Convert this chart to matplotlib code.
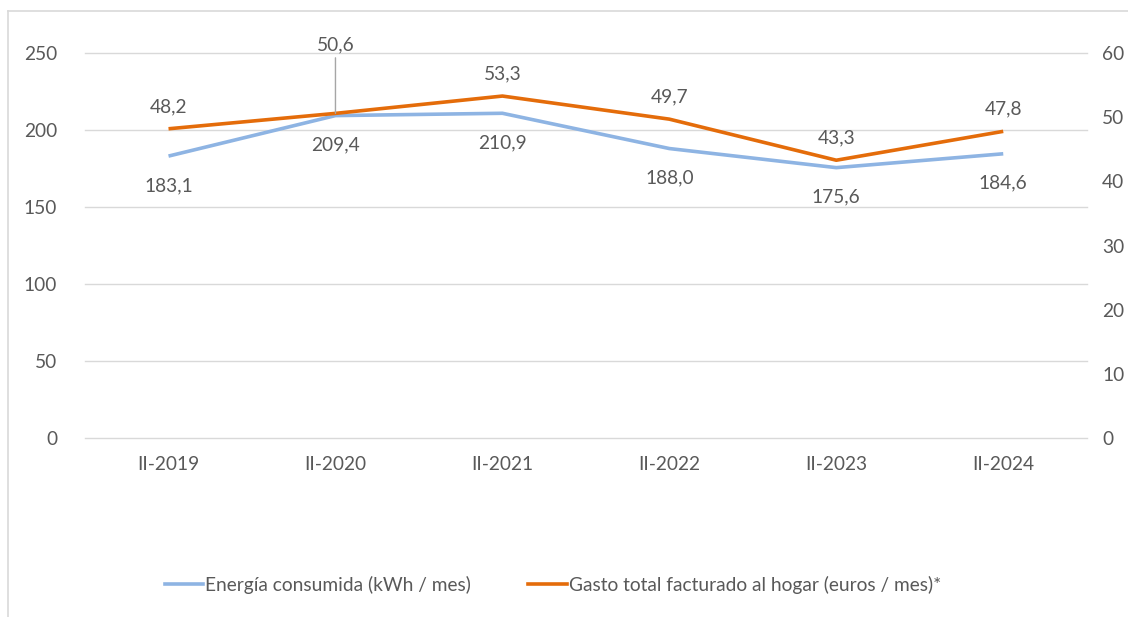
import matplotlib.pyplot as plt
from matplotlib.lines import Line2D

# datos
periodos = ["II-2019", "II-2020", "II-2021", "II-2022", "II-2023", "II-2024"]
energia = [183.1, 209.4, 210.9, 188.0, 175.6, 184.6]  # kWh / mes
gasto = [48.2, 50.6, 53.3, 49.7, 43.3, 47.8]  # euros / mes

azul = "#8EB4E3"
naranja = "#E46C0A"
gris = "#595959"
fs = 13.8

plt.rcParams['font.family'] = ['Lato', 'DejaVu Sans']
plt.rcParams['font.size'] = fs

fig = plt.figure(figsize=(11.28, 6.17), dpi=100)
ax = fig.add_axes([0.0754, 0.290, 0.888, 0.624])
ax2 = ax.twinx()

x = list(range(len(periodos)))
ax.plot(x, energia, color=azul, linewidth=2.6, solid_capstyle='butt', zorder=3)
ax2.plot(x, gasto, color=naranja, linewidth=2.6, solid_capstyle='butt', zorder=3)

ax.set_xlim(-0.5, len(periodos) - 0.5)
ax.set_ylim(0, 250)
ax2.set_ylim(0, 60)
ax.set_yticks(range(0, 251, 50))
ax2.set_yticks(range(0, 61, 10))
ax.set_xticks(x)
ax.set_xticklabels(periodos)

ax.grid(axis='y', color='#D9D9D9', linewidth=1)
for g in ax.yaxis.get_gridlines():
    g.set_clip_on(False)
ax.set_axisbelow(True)
for a in (ax, ax2):
    for s in a.spines.values():
        s.set_visible(False)
    a.tick_params(length=0, colors=gris, labelsize=fs)
ax.tick_params(axis='y', pad=20)
ax.tick_params(axis='x', pad=13)
ax2.tick_params(axis='y', pad=11)

# etiquetas de datos
for i, v in enumerate(energia):
    ax.annotate(f"{v:.1f}".replace('.', ','), (i, v), xytext=(0, -15),
                textcoords='offset points', ha='center', va='top', color=gris)
for i, v in enumerate(gasto):
    if i == 1:
        ax2.annotate(f"{v:.1f}".replace('.', ','), (i, v), xytext=(0, 43),
                     textcoords='offset points', ha='center', va='bottom', color=gris,
                     arrowprops=dict(arrowstyle='-', color='#A6A6A6', lw=1,
                                     shrinkA=1, shrinkB=0))
    else:
        ax2.annotate(f"{v:.1f}".replace('.', ','), (i, v), xytext=(0, 10),
                     textcoords='offset points', ha='center', va='bottom', color=gris)

handles = [Line2D([], [], color=azul, linewidth=2.6),
           Line2D([], [], color=naranja, linewidth=2.6)]
fig.legend(handles, ["Energía consumida (kWh / mes)",
                     "Gasto total facturado al hogar (euros / mes)*"],
           loc='center', bbox_to_anchor=(0.49, 0.052), ncol=2, frameon=False,
           handlelength=2.0, handletextpad=0.1, columnspacing=3.0,
           labelcolor=gris, fontsize=fs)

# marco
fig.add_artist(Line2D([0.007, 0.007], [0.0, 0.982], color='#D9D9D9', linewidth=1.2))
fig.add_artist(Line2D([0.007, 1.0], [0.982, 0.982], color='#D9D9D9', linewidth=1.2))

fig.savefig("out.png", dpi=100)
